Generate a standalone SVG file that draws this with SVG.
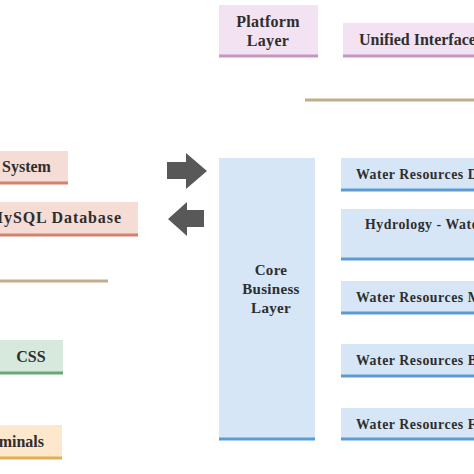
<svg xmlns="http://www.w3.org/2000/svg" width="474" height="474" viewBox="0 0 474 474">
<style>
text{font-family:"Liberation Serif","Times New Roman",serif;font-weight:bold;fill:#2e2e2e;}
.t16{font-size:16px;}
.t15{font-size:15px;letter-spacing:0.3px;}
.t14{font-size:13.8px;letter-spacing:0.55px;}
.pink{fill:#f3e2f1;}
.blue{fill:#d6e6f6;}
.salmon{fill:#f5dcd5;}
.green{fill:#d7e9dd;}
.orange{fill:#fde8cd;}
.bp{stroke:#c596c0;stroke-width:3;}
.bb{stroke:#5c9bd2;stroke-width:3;}
.bs{stroke:#d3826f;stroke-width:3;}
.bg{stroke:#6aa77c;stroke-width:3;}
.bo{stroke:#e1b04e;stroke-width:3;}
.tan{stroke:#c4ab8a;stroke-width:3;}
.arrow{fill:#585858;}
</style>
<rect width="474" height="474" fill="#fff"/>
<g id="platform-layer">
<rect class="pink" x="219" y="5" width="99" height="51"/>
<line class="bp" x1="219" y1="56" x2="318" y2="56"/>
<text class="t16" x="268" y="27" text-anchor="middle" letter-spacing="0.3">Platform</text>
<text class="t16" x="268" y="46" text-anchor="middle" letter-spacing="0.3">Layer</text>
</g>
<g id="unified-interface">
<rect class="pink" x="343" y="23" width="131" height="33"/>
<line class="bp" x1="343" y1="56" x2="474" y2="56"/>
<text class="t16" x="359" y="45">Unified Interface</text>
</g>
<g id="separators">
<line class="tan" x1="305" y1="100" x2="474" y2="100"/>
<line class="tan" x1="0" y1="281" x2="108" y2="281"/>
</g>
<g id="system">
<rect class="salmon" x="0" y="151" width="68" height="32"/>
<line class="bs" x1="0" y1="183" x2="68" y2="183"/>
<text class="t16" x="2" y="172">System</text>
</g>
<g id="mysql-database">
<rect class="salmon" x="0" y="202" width="138" height="33"/>
<line class="bs" x1="0" y1="235" x2="138" y2="235"/>
<text class="t16" x="-12" y="223" textLength="133" lengthAdjust="spacing">MySQL Database</text>
</g>
<g id="connectors">
<polygon class="arrow" points="167,162 186,162 186,153 207,171 186,189 186,179 167,179"/>
<polygon class="arrow" points="204,210 187,210 187,202 168,219 187,236 187,227 204,227"/>
</g>
<g id="core-business-layer">
<rect class="blue" x="219" y="158" width="96" height="281"/>
<line class="bb" x1="219" y1="439" x2="315" y2="439"/>
<text class="t15" x="271" y="275" text-anchor="middle">Core</text>
<text class="t15" x="271" y="294" text-anchor="middle">Business</text>
<text class="t15" x="271" y="313" text-anchor="middle">Layer</text>
</g>
<g id="wr-d">
<rect class="blue" x="341" y="158" width="133" height="32"/>
<line class="bb" x1="341" y1="190" x2="474" y2="190"/>
<text class="t14" x="356" y="179">Water Resources D</text>
</g>
<g id="hydrology">
<rect class="blue" x="341" y="209" width="133" height="50"/>
<line class="bb" x1="341" y1="259" x2="474" y2="259"/>
<text class="t14" x="365" y="229">Hydrology - Water</text>
</g>
<g id="wr-m">
<rect class="blue" x="341" y="281" width="133" height="32"/>
<line class="bb" x1="341" y1="313" x2="474" y2="313"/>
<text class="t14" x="356" y="302">Water Resources M</text>
</g>
<g id="wr-b">
<rect class="blue" x="341" y="344" width="133" height="32"/>
<line class="bb" x1="341" y1="376" x2="474" y2="376"/>
<text class="t14" x="356" y="365">Water Resources B</text>
</g>
<g id="wr-f">
<rect class="blue" x="341" y="408" width="133" height="31"/>
<line class="bb" x1="341" y1="439" x2="474" y2="439"/>
<text class="t14" x="356" y="429">Water Resources F</text>
</g>
<g id="css">
<rect class="green" x="0" y="340" width="63" height="33"/>
<line class="bg" x1="0" y1="373" x2="63" y2="373"/>
<text class="t16" x="31" y="362" text-anchor="middle">CSS</text>
</g>
<g id="terminals">
<rect class="orange" x="0" y="425" width="62" height="33"/>
<line class="bo" x1="0" y1="458" x2="62" y2="458"/>
<text class="t16" x="44" y="447" text-anchor="end">Terminals</text>
</g>
</svg>
